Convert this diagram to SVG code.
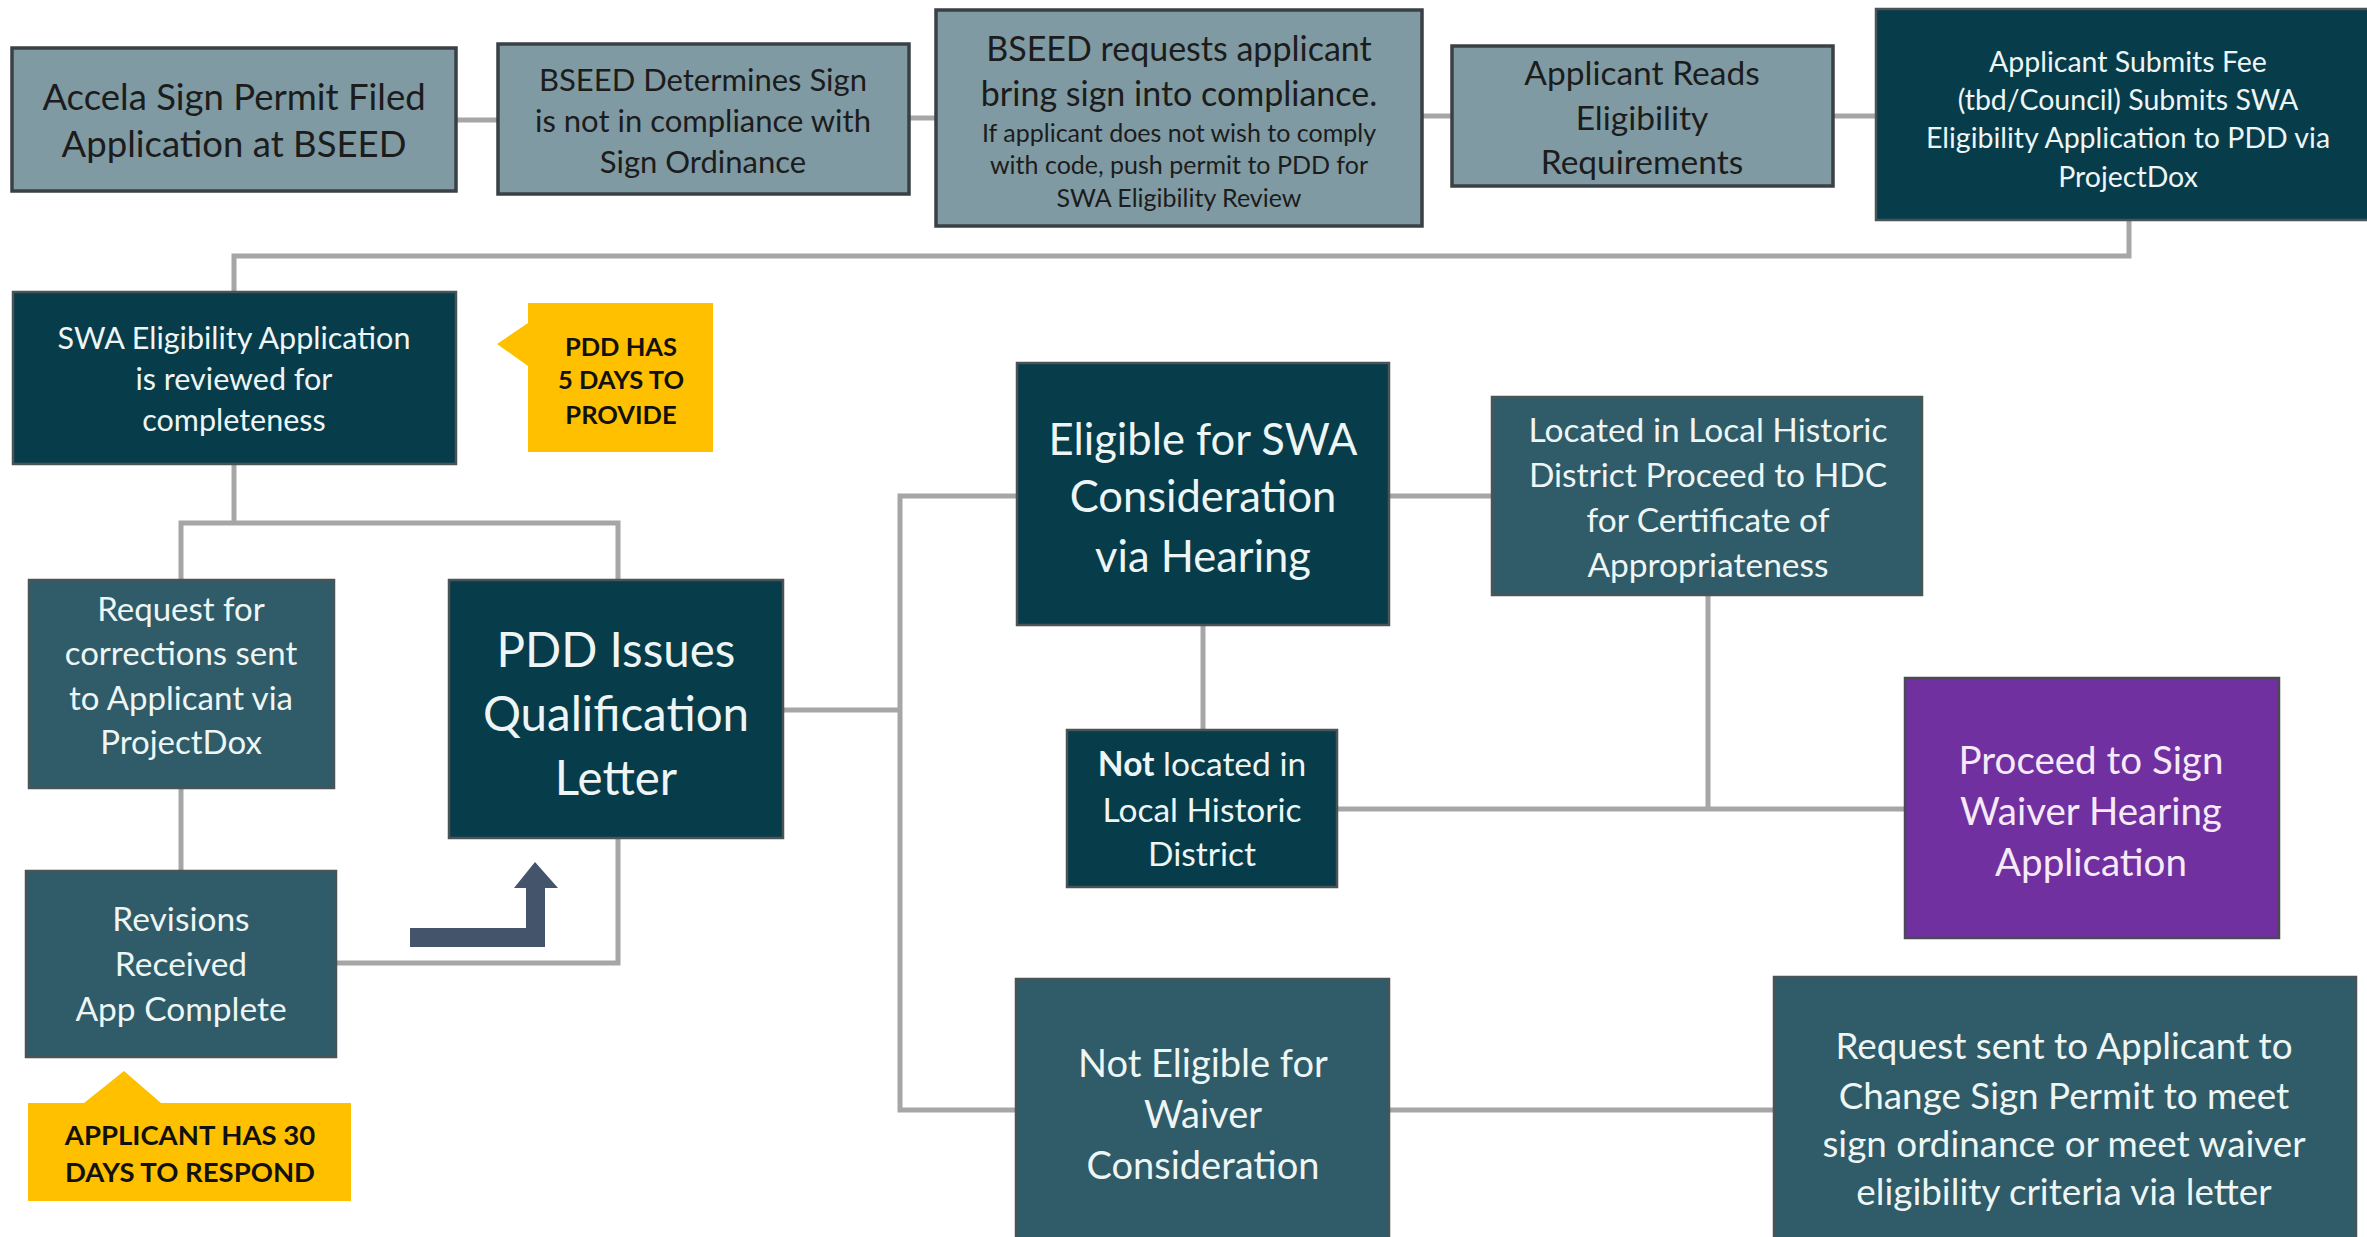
<svg xmlns="http://www.w3.org/2000/svg" width="2367" height="1237" viewBox="0 0 2367 1237">
<style>
text{font-family:Lato,"Open Sans","Liberation Sans",sans-serif;text-anchor:middle;dominant-baseline:central}
.light{fill:#7f9aa2;stroke:#3a4144;stroke-width:3.5}
.dark{fill:#073c4b;stroke:#4a5356;stroke-width:2.5}
.mid{fill:#2f5c68;stroke:#4a5356;stroke-width:2.5}
.purple{fill:#7030a0;stroke:#4a4a55;stroke-width:2.5}
.note{fill:#ffc000}
.tl{fill:#1c1c1c}
.tw{fill:#eef5f5}
.tp{fill:#f6eaf8}
.tb{fill:#111;font-weight:bold}
.conn{fill:none;stroke:#a6a6a6;stroke-width:5}
</style>
<rect width="2367" height="1237" fill="#ffffff"/>
<g id="connectors">
<path class="conn" d="M456 120 H498"/>
<path class="conn" d="M909 118 H936"/>
<path class="conn" d="M1422 116 H1452"/>
<path class="conn" d="M1833 116 H1876"/>
<path class="conn" d="M2129 220 V256 H234 V292"/>
<path class="conn" d="M234 464 V523"/>
<path class="conn" d="M181 580 V523 H618 V580"/>
<path class="conn" d="M181 788 V871"/>
<path class="conn" d="M336 963 H618 V838"/>
<path class="conn" d="M783 710 H900"/>
<path class="conn" d="M1017 496 H900 V1110 H1016"/>
<path class="conn" d="M1389 496 H1492"/>
<path class="conn" d="M1203 625 V730"/>
<path class="conn" d="M1337 809 H1905"/>
<path class="conn" d="M1708 595 V809"/>
<path class="conn" d="M1389 1110 H1774"/>
</g>
<g id="bent-arrow"><polygon points="410,928 526,928 526,888 514,888 535,862 558,888 545,888 545,947 410,947" fill="#44546a"/></g>
<g id="n1"><rect class="light" x="12" y="48" width="444" height="143"/>
<text class="tl" font-size="36.5"><tspan x="234" y="96">Accela Sign Permit Filed</tspan><tspan x="234" y="143">Application at BSEED</tspan></text></g>
<g id="n2"><rect class="light" x="498" y="44" width="411" height="150"/>
<text class="tl" font-size="31"><tspan x="703" y="79">BSEED  Determines  Sign</tspan><tspan x="703" y="120">is not in compliance  with</tspan><tspan x="703" y="161">Sign Ordinance</tspan></text></g>
<g id="n3"><rect class="light" x="936" y="10" width="486" height="216"/>
<text class="tl" font-size="34"><tspan x="1179" y="47">BSEED requests applicant</tspan><tspan x="1179" y="92">bring sign into compliance.</tspan></text>
<text class="tl" font-size="25"><tspan x="1179" y="132">If applicant does not wish to comply</tspan><tspan x="1179" y="164">with code, push permit to PDD for</tspan><tspan x="1179" y="197">SWA Eligibility Review</tspan></text></g>
<g id="n4"><rect class="light" x="1452" y="46" width="381" height="140"/>
<text class="tl" font-size="33.5"><tspan x="1642" y="72">Applicant Reads</tspan><tspan x="1642" y="117">Eligibility</tspan><tspan x="1642" y="161">Requirements</tspan></text></g>
<g id="n5"><rect class="dark" x="1876" y="9" width="500" height="211"/>
<text class="tw" font-size="28.5"><tspan x="2128" y="61">Applicant Submits  Fee</tspan><tspan x="2128" y="99">(tbd/Council) Submits  SWA</tspan><tspan x="2128" y="137">Eligibility Application to  PDD via</tspan><tspan x="2128" y="176">ProjectDox</tspan></text></g>
<g id="n6"><rect class="dark" x="13" y="292" width="443" height="172"/>
<text class="tw" font-size="30.5"><tspan x="234" y="337">SWA Eligibility  Application</tspan><tspan x="234" y="378">is reviewed  for</tspan><tspan x="234" y="419">completeness</tspan></text></g>
<g id="note5"><polygon class="note" points="528,303 713,303 713,452 528,452 528,366 497,344 528,323"/>
<text class="tb" font-size="25.5"><tspan x="621" y="346">PDD HAS</tspan><tspan x="621" y="379">5 DAYS TO</tspan><tspan x="621" y="414">PROVIDE</tspan></text></g>
<g id="n7"><rect class="mid" x="29" y="580" width="305" height="208"/>
<text class="tw" font-size="33"><tspan x="181" y="608">Request for</tspan><tspan x="181" y="652">corrections sent</tspan><tspan x="181" y="697">to Applicant via</tspan><tspan x="181" y="741">ProjectDox</tspan></text></g>
<g id="n8"><rect class="dark" x="449" y="580" width="334" height="258"/>
<text class="tw" font-size="47.5"><tspan x="616" y="648">PDD Issues</tspan><tspan x="616" y="712">Qualification</tspan><tspan x="616" y="776">Letter</tspan></text></g>
<g id="n9"><rect class="mid" x="26" y="871" width="310" height="186"/>
<text class="tw" font-size="33.5"><tspan x="181" y="918">Revisions</tspan><tspan x="181" y="963">Received</tspan><tspan x="181" y="1008">App Complete</tspan></text></g>
<g id="note30"><polygon class="note" points="28,1103 84,1103 124,1071 161,1103 351,1103 351,1201 28,1201"/>
<text class="tb" font-size="27.5"><tspan x="190" y="1134">APPLICANT HAS 30</tspan><tspan x="190" y="1171">DAYS TO RESPOND</tspan></text></g>
<g id="n10"><rect class="dark" x="1017" y="363" width="372" height="262"/>
<text class="tw" font-size="43.5"><tspan x="1203" y="438">Eligible for SWA</tspan><tspan x="1203" y="495">Consideration</tspan><tspan x="1203" y="555">via Hearing</tspan></text></g>
<g id="n11"><rect class="mid" x="1492" y="397" width="430" height="198"/>
<text class="tw" font-size="33.5"><tspan x="1708" y="429">Located in Local Historic</tspan><tspan x="1708" y="474">District Proceed to HDC</tspan><tspan x="1708" y="519">for Certificate of</tspan><tspan x="1708" y="564">Appropriateness</tspan></text></g>
<g id="n12"><rect class="dark" x="1067" y="730" width="270" height="157"/>
<text class="tw" font-size="33.5"><tspan x="1202" y="763"><tspan font-weight="bold">Not</tspan> located in</tspan><tspan x="1202" y="809">Local Historic</tspan><tspan x="1202" y="853">District</tspan></text></g>
<g id="n14"><rect class="purple" x="1905" y="678" width="374" height="260"/>
<text class="tp" font-size="38.5"><tspan x="2091" y="759">Proceed  to Sign</tspan><tspan x="2091" y="810">Waiver  Hearing</tspan><tspan x="2091" y="861">Application</tspan></text></g>
<g id="n13"><rect class="mid" x="1016" y="979" width="373" height="270"/>
<text class="tw" font-size="38"><tspan x="1203" y="1062">Not Eligible for</tspan><tspan x="1203" y="1113">Waiver</tspan><tspan x="1203" y="1164">Consideration</tspan></text></g>
<g id="n15"><rect class="mid" x="1774" y="977" width="582" height="272"/>
<text class="tw" font-size="36.8"><tspan x="2064" y="1045">Request sent to Applicant to</tspan><tspan x="2064" y="1095">Change Sign Permit to meet</tspan><tspan x="2064" y="1143">sign ordinance or meet waiver</tspan><tspan x="2064" y="1191">eligibility criteria via letter</tspan></text></g>
</svg>
